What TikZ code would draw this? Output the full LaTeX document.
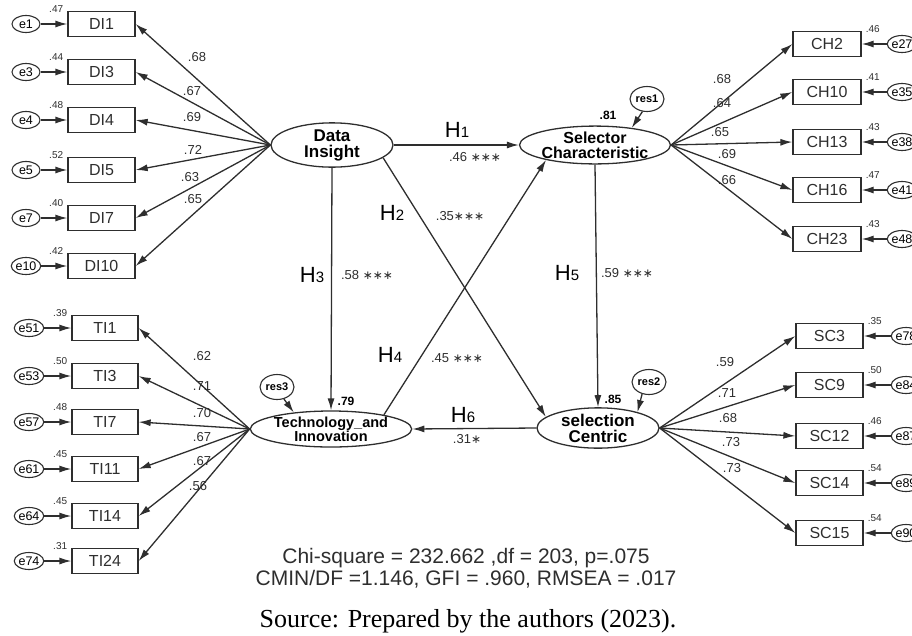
\documentclass[tikz,border=0pt]{standalone}
\usepackage{fontspec}
\setmainfont{Liberation Sans}
\newfontfamily\srcfont{Liberation Serif}
\newfontfamily\starfont{DejaVu Sans}
\usetikzlibrary{arrows.meta,positioning,shapes.geometric}

\definecolor{inkgray}{HTML}{2E2E2E}

\newcommand{\hyplab}[1]{H{\fontsize{15}{15}\selectfont #1}}
\newcommand{\stars}[1]{{\starfont\fontsize{12}{12}\selectfont #1}}

\tikzset{
  indbox/.style={draw=inkgray, line width=1.3pt, minimum width=67pt, minimum height=25pt,
    inner sep=0pt, text=inkgray, font=\fontsize{16}{16}\selectfont},
  errcirc/.style={draw=inkgray, ellipse, line width=1.1pt, minimum width=28pt, minimum height=17pt,
    inner sep=0pt, font=\fontsize{12.5}{12.5}\selectfont},
  rescirc/.style={draw=inkgray, ellipse, line width=1.1pt, minimum width=34pt, minimum height=25pt,
    inner sep=0pt, font=\bfseries\fontsize{11}{11}\selectfont},
  latent/.style={draw=inkgray, ellipse, line width=1.3pt, minimum width=122pt, minimum height=36pt,
    inner sep=0pt, align=center, font=\bfseries\fontsize{17}{16}\selectfont},
  link/.style={draw=inkgray, line width=1.3pt, -{Latex[length=12pt,width=7pt]}},
  coef/.style={text=inkgray, inner sep=0pt, font=\fontsize{13}{13}\selectfont},
  hyp/.style={inner sep=0pt, font=\fontsize{22}{22}\selectfont},
  sqm/.style={text=inkgray, inner sep=0pt, font=\fontsize{10}{10}\selectfont},
  rsq/.style={inner sep=0pt, font=\bfseries\fontsize{12}{12}\selectfont},
}

\begin{document}
\begin{tikzpicture}[x=1pt,y=-1pt]
    \useasboundingbox (0,0) rectangle (912,635);
    \clip (0,0) rectangle (912,635);

    % latent variables
    \node[latent] (DI) at (332,145) {Data\\Insight};
    \node[latent, font=\bfseries\fontsize{16}{15}\selectfont] (SCh) at (595,145) {Selector\\Characteristic};
    \node[latent, font=\bfseries\fontsize{14.5}{14}\selectfont] (TI) at (331,429) {Technology\_and\\Innovation};
    \node[latent] (SC) at (598,428) {selection\\Centric};

    % residuals
    \node[rescirc] (res1) at (647,99) {res1};
    \node[rescirc] (res3) at (277,387) {res3};
    \node[rescirc] (res2) at (649,382) {res2};
    \draw[link] (res1.-110) -- (SCh.25);
    \draw[link] (res3.-60) -- (TI.156);
    \draw[link] (res2.-120) -- (SC.22);
    \node[rsq] (r2SCh) at (608,115) {.81};
    \node[rsq] (r2TI) at (346,401) {.79};
    \node[rsq] (r2SC) at (613,399) {.85};

    % Data Insight indicators
    \foreach \nm/\yy/\en/\ev/\cf/\cx/\cy in {DI1/24/e1/.47/.68/197/57, DI3/72/e3/.44/.67/192/91,
        DI4/120/e4/.48/.69/192/117, DI5/170/e5/.52/.72/193/150,
        DI7/218/e7/.40/.63/190/177, DI10/266/e10/.42/.65/193/199}{
        \node[indbox] (\nm) at (101.5,\yy) {\nm};
        \node[errcirc] (\en) at (26,\yy) {\en};
        \draw[link] (\en) -- (\nm);
        \node[sqm, left=4pt of \nm.north west, yshift=2pt] (sq\nm) {\ev};
        \draw[link] (DI.west) -- (\nm.east);
        \node[coef] (cf\nm) at (\cx,\cy) {\cf};
    }

    % Technology_and Innovation indicators
    \foreach \nm/\yy/\en/\ev/\cf/\cx/\cy in {TI1/328/e51/.39/.62/202/356, TI3/376/e53/.50/.71/202/386,
        TI7/422/e57/.48/.70/202/413, TI11/469/e61/.45/.67/202/437,
        TI14/516/e64/.45/.67/202/461, TI24/561/e74/.31/.56/198/486}{
        \node[indbox, minimum width=66pt] (\nm) at (105,\yy) {\nm};
        \node[errcirc] (\en) at (29,\yy) {\en};
        \draw[link] (\en) -- (\nm);
        \node[sqm, left=4pt of \nm.north west, yshift=2pt] (sq\nm) {\ev};
        \draw[link] (TI.west) -- (\nm.east);
        \node[coef] (cf\nm) at (\cx,\cy) {\cf};
    }

    % Selector Characteristic indicators
    \foreach \nm/\yy/\en/\ev/\cf/\cx/\cy in {CH2/44/e27/.46/.68/722/79, CH10/92/e35/.41/.64/722/103,
        CH13/142/e38/.43/.65/720/132, CH16/190/e41/.47/.69/727/154,
        CH23/239/e48/.43/.66/727/180}{
        \node[indbox, minimum width=68pt] (\nm) at (827,\yy) {\nm};
        \node[errcirc] (\en) at (902,\yy) {\en};
        \draw[link] (\en) -- (\nm);
        \node[sqm, right=4pt of \nm.north east, yshift=2pt] (sq\nm) {\ev};
        \draw[link] (SCh.east) -- (\nm.west);
        \node[coef] (cf\nm) at (\cx,\cy) {\cf};
    }

    % selection Centric indicators
    \foreach \nm/\yy/\en/\ev/\cf/\cx/\cy in {SC3/336/e78/.35/.59/725/362, SC9/385/e84/.50/.71/727/393,
        SC12/436/e87/.46/.68/728/418, SC14/483/e89/.54/.73/731/442,
        SC15/533/e90/.54/.73/732/468}{
        \node[indbox] (\nm) at (829.5,\yy) {\nm};
        \node[errcirc] (\en) at (906,\yy) {\en};
        \draw[link] (\en) -- (\nm);
        \node[sqm, right=4pt of \nm.north east, yshift=2pt] (sq\nm) {\ev};
        \draw[link] (SC.east) -- (\nm.west);
        \node[coef] (cf\nm) at (\cx,\cy) {\cf};
    }

    % structural paths
    \draw[link] (DI.east) -- (SCh.west);
    \draw[link] (DI.-14) -- (SC.168);
    \draw[link] (DI.south) -- (TI.north);
    \draw[link] (TI.15) -- (SCh.197);
    \draw[link] (SCh.south) -- (SC.north);
    \draw[link] (SC.west) -- (TI.east);

    \node[hyp] (h1) at (457,130) {\hyplab{1}};
    \node[coef] (p1) at (475,157) {.46 \stars{∗∗∗}};
    \node[hyp] (h2) at (392,213) {\hyplab{2}};
    \node[coef] (p2) at (460,216) {.35\stars{∗∗∗}};
    \node[hyp] (h3) at (312,275) {\hyplab{3}};
    \node[coef] (p3) at (367,275) {.58 \stars{∗∗∗}};
    \node[hyp] (h4) at (390,355) {\hyplab{4}};
    \node[coef] (p4) at (457,358) {.45 \stars{∗∗∗}};
    \node[hyp] (h5) at (567,273) {\hyplab{5}};
    \node[coef] (p5) at (627,273) {.59 \stars{∗∗∗}};
    \node[hyp] (h6) at (463,415) {\hyplab{6}};
    \node[coef] (p6) at (467,439) {.31\stars{∗}};

    % fit indices and source
    \node[text=inkgray, align=center, font=\fontsize{21}{22}\selectfont] (fit) at (466,568)
        {Chi-square = 232.662 ,df = 203, p=.075\\CMIN/DF =1.146, GFI = .960, RMSEA = .017};
    \node[font=\srcfont\fontsize{26}{26}\selectfont] (src) at (468,621) {Source: Prepared by the authors (2023).};
\end{tikzpicture}
\end{document}
